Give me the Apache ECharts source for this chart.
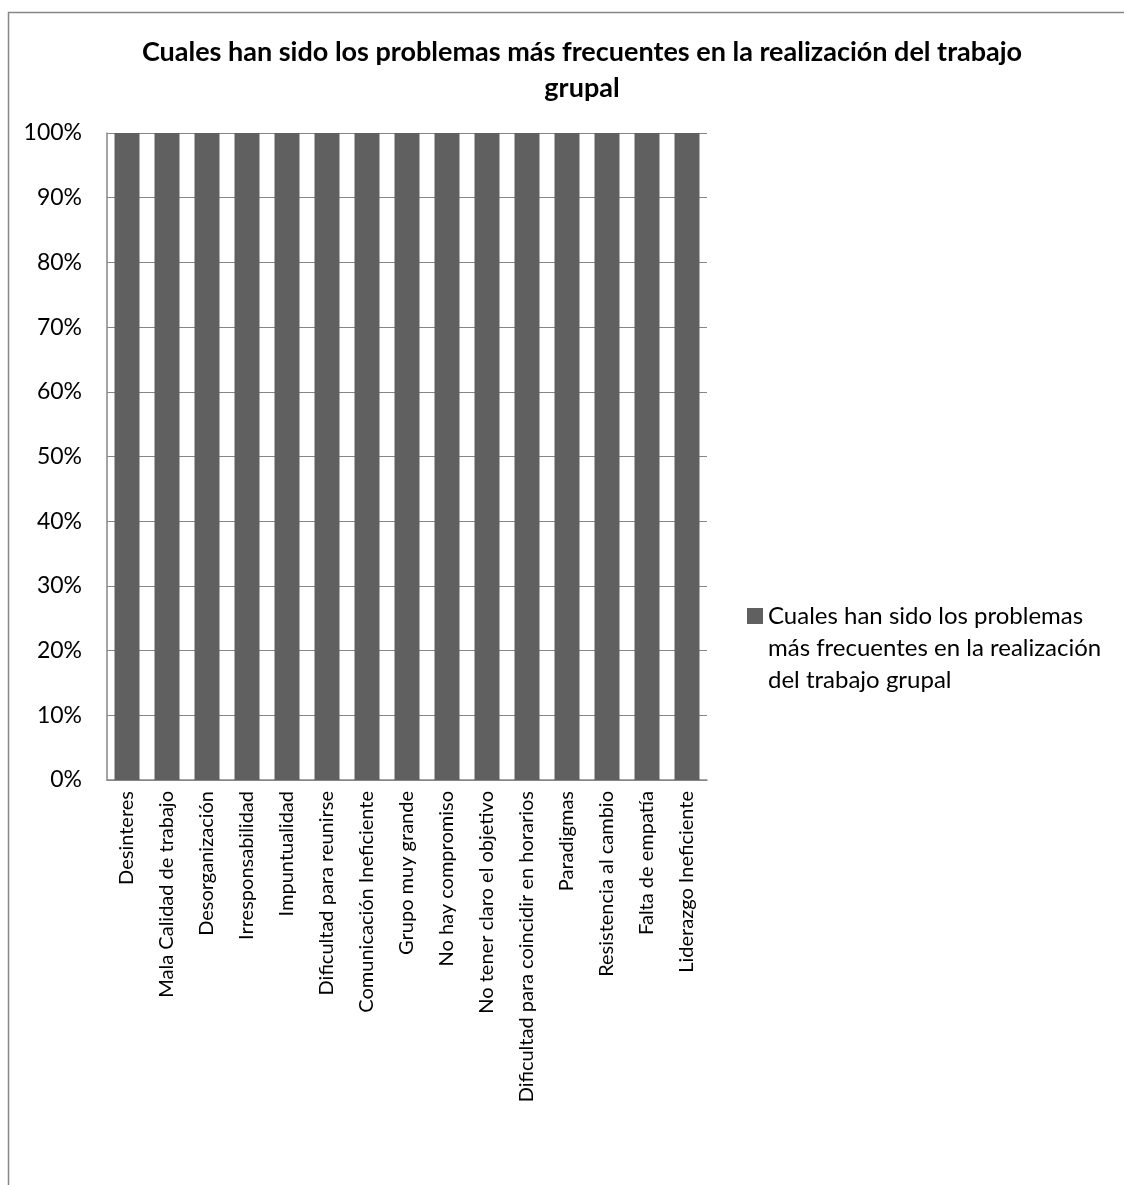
<!DOCTYPE html>
<html><head><meta charset="utf-8">
<script src="https://cdn.jsdelivr.net/npm/echarts@6/dist/echarts.min.js"></script>
<style>html,body{margin:0;padding:0;background:#fff}#c{width:1124px;height:1185px}</style>
</head><body><div id="c"></div>
<script>
var categories = ["Desinteres","Mala Calidad de trabajo","Desorganización","Irresponsabilidad","Impuntualidad","Dificultad para reunirse","Comunicación Ineficiente","Grupo muy grande","No hay compromiso","No tener claro el objetivo","Dificultad para coincidir en horarios","Paradigmas","Resistencia al cambio","Falta de empatía","Liderazgo Ineficiente"];
var values = [100,100,100,100,100,100,100,100,100,100,100,100,100,100,100];
var seriesName = "Cuales han sido los problemas más frecuentes en la realización del trabajo grupal";
var titleText = "Cuales han sido los problemas más frecuentes en la realización del trabajo\ngrupal";
var legendLines = ["Cuales han sido los problemas","más frecuentes en la realización","del trabajo grupal"];
var FONT = "Lato";
var chart = echarts.init(document.getElementById('c'));
chart.setOption({
  animation:false,
  backgroundColor:'#fff',
  graphic:[{type:'rect',shape:{x:8.5,y:12.5,width:1300,height:1300},style:{fill:'none',stroke:'#868686',lineWidth:1.5},silent:true,z:-1}],
  title:{text:titleText,left:577,top:29,textAlign:'center',textStyle:{fontFamily:FONT,fontWeight:'bold',fontSize:27,color:'#000',lineHeight:36}},
  legend:{orient:'vertical',left:747,top:536,itemWidth:16,itemHeight:16,icon:'rect',itemGap:0,padding:0,
    formatter:function(){return "\n\n" + legendLines.join("\n");},
    textStyle:{fontFamily:FONT,fontSize:24,color:'#000',lineHeight:32}},
  grid:{left:107,right:417,top:133,bottom:405,containLabel:false},
  xAxis:{type:'category',data:categories,
    axisLine:{lineStyle:{color:'#868686',width:1.5}},axisTick:{show:false},
    axisLabel:{rotate:90,interval:0,margin:11,fontFamily:FONT,fontSize:20,color:'#000'}},
  yAxis:{type:'value',min:0,max:100,interval:10,
    axisLine:{show:true,lineStyle:{color:'#868686',width:1.5}},axisTick:{show:false},
    splitLine:{lineStyle:{color:'#868686',width:1}},
    axisLabel:{formatter:'{value}%',margin:25,fontFamily:FONT,fontSize:23,color:'#000'}},
  series:[{name:seriesName,type:'bar',data:values,barCategoryGap:'37.5%',itemStyle:{color:'#606060'}}]
});
</script></body></html>
